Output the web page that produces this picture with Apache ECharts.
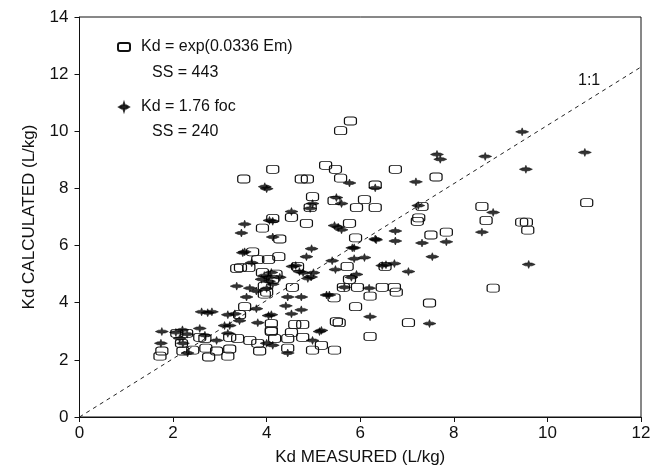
<!DOCTYPE html>
<html>
<head>
<meta charset="utf-8">
<script src="https://cdn.jsdelivr.net/npm/echarts@6/dist/echarts.min.js"></script>
<style>
html,body{margin:0;padding:0;background:#fff;}
#chart{width:654px;height:471px;}
</style>
</head>
<body>
<div id="chart"></div>
<script>
// Kd = exp(0.0336 Em), open rectangles  [measured, calculated]
const emPoints = [
  [5.79,10.36],[5.58,10.02],[5.26,8.81],[5.47,8.67],[5.58,8.36],[4.74,8.33],[4.87,8.33],[4.13,8.67],
  [3.51,8.33],[6.75,8.67],[7.62,8.40],[6.32,8.12],[4.98,7.71],[4.93,7.33],[5.44,7.57],[6.09,7.61],
  [5.92,7.33],[6.32,7.33],[4.53,6.99],[4.85,6.78],[5.77,6.78],[5.90,6.27],[4.13,6.95],[4.28,6.23],
  [3.91,6.61],[3.70,5.78],
  [7.32,7.37],[7.22,6.85],[7.25,6.97],[7.51,6.37],[7.84,6.47],[8.60,7.37],[8.69,6.88],[9.45,6.82],
  [9.55,6.82],[9.58,6.54],[10.84,7.50],
  [5.72,5.27],[6.53,5.27],[5.64,4.54],[5.94,4.54],[6.47,4.54],[6.73,4.54],[6.77,4.37],[6.21,4.23],
  [5.44,4.17],[5.90,3.86],[7.48,3.99],[8.84,4.51],[5.49,3.34],[5.55,3.30],[7.03,3.30],[6.21,2.82],
  [5.17,2.51],[5.45,2.34],
  [4.26,5.61],[4.66,5.27],[5.77,4.82],[4.55,4.54],[4.60,3.24],[4.77,3.24],[4.53,2.96],[4.10,2.99],
  [4.17,2.75],[4.45,2.75],[4.77,2.79],[4.45,2.41],[4.98,2.34],
  [3.81,5.51],[4.04,5.51],[3.36,5.20],[3.44,5.23],[3.62,5.23],[3.91,5.06],[3.95,4.58],[3.95,4.30],
  [4.13,4.82],[4.00,4.37],[4.20,5.00],
  [3.53,3.86],[3.42,3.58],[4.10,3.27],[4.10,3.03],[2.08,2.93],[2.29,2.93],[2.57,2.79],[2.68,2.75],
  [3.21,2.79],[3.38,2.75],[3.64,2.68],[3.81,2.58],[1.76,2.31],[1.72,2.13],[2.18,2.58],[2.21,2.31],
  [2.42,2.34],[2.70,2.41],[2.93,2.31],[2.76,2.10],[3.21,2.38],[3.17,2.13],[3.85,2.31]
];
// Kd = 1.76 foc, filled crosses  [measured, calculated]
const focPoints = [
  [3.96,8.06],[4.00,7.99],[5.77,8.19],[6.32,8.02],[4.98,7.47],[4.93,7.30],[5.49,7.68],[5.60,7.47],
  [4.53,7.19],[4.13,6.85],[4.13,6.30],[3.53,6.75],[3.46,6.44],[4.06,6.88],[5.53,6.64],[5.45,6.70],
  [5.60,6.55],[4.96,5.89],[5.87,5.92],[6.32,6.23],[3.49,5.75],[3.68,5.40],
  [7.64,9.19],[7.71,9.02],[8.67,9.12],[7.19,8.23],[7.24,7.40],[8.84,7.16],[6.75,6.51],[6.75,6.16],
  [7.32,6.09],[7.84,6.13],[8.60,6.47],[9.46,9.98],[10.80,9.26],[9.54,8.67],[6.34,6.20],[7.54,5.61],
  [9.60,5.34],[7.03,5.09],[7.48,3.27],
  [5.83,5.92],[5.87,5.54],[6.09,5.58],[5.40,5.47],[5.47,5.16],[6.47,5.30],[6.55,5.33],[6.73,5.37],
  [5.92,4.99],[5.81,4.89],[6.19,4.51],[5.28,4.27],[6.21,3.51],[5.17,3.03],[5.66,4.54],[4.85,5.61],
  [4.70,5.09],[4.78,5.05],[4.10,5.06],[4.28,4.89],[4.13,4.65],[4.45,4.20],[4.74,4.20],[4.41,3.89],
  [4.53,3.61],[4.74,3.75],[4.10,3.58],[5.13,2.99],[4.98,2.68],[4.13,2.51],[4.45,2.24],[5.34,4.27],
  [4.55,5.27],[4.62,5.30],[4.88,4.85],[4.95,4.90],[5.00,5.05],
  [3.53,5.78],[3.36,4.58],[3.64,4.51],[3.78,4.41],[3.89,4.82],[4.04,4.89],[3.57,4.20],[4.00,4.50],
  [3.78,3.79],[2.61,3.68],[2.74,3.65],[2.83,3.68],[3.17,3.58],[3.32,3.61],[3.42,3.37],[3.21,3.20],
  [3.81,3.30],[4.04,3.55],[3.17,2.93],[1.76,2.99],[1.74,2.58],[2.06,2.96],[2.14,2.75],[2.21,2.58],
  [2.57,3.10],[2.68,2.86],[2.93,2.68],[2.31,2.24],[4.00,2.58],[3.10,3.20],[2.20,3.05],[2.30,2.90],
  [3.95,4.95],[4.05,4.75]
];
// 1:1 reference line endpoints (as drawn)
const oneToOne = [[0,0],[12,12.25]];
const xTicks = {min:0, max:12, interval:2};
const yTicks = {min:0, max:14, interval:2};
const xTitle = 'Kd MEASURED (L/kg)';
const yTitle = 'Kd CALCULATED (L/kg)';
const seriesNames = ['Kd = exp(0.0336 Em)', 'Kd = 1.76 foc'];
const ssTexts = ['SS = 443', 'SS = 240'];

const FONT = '"Liberation Sans", Arial, Helvetica, sans-serif';
const INK = '#111';
const crossPath = 'path://M0,5 L3,3.2 L5,3.2 L6,0 L7,3.2 L9,3.2 L12,5 L9,6.8 L7,6.8 L6,10 L5,6.8 L3,6.8 Z';

const chart = echarts.init(document.getElementById('chart'), null, {renderer:'canvas'});
chart.setOption({
  animation:false,
  backgroundColor:'#fff',
  grid:{left:79.5, right:13, top:17, bottom:46, show:true, borderColor:INK, borderWidth:1, backgroundColor:'transparent'},
  xAxis:{
    type:'value', min:xTicks.min, max:xTicks.max, interval:xTicks.interval,
    name:xTitle, nameLocation:'middle', nameGap:32,
    nameTextStyle:{fontFamily:FONT, fontSize:17, color:INK},
    axisLine:{show:true, lineStyle:{color:INK, width:1}},
    axisTick:{show:true, inside:false, length:5, lineStyle:{color:INK}},
    axisLabel:{fontFamily:FONT, fontSize:17, color:INK, margin:8},
    splitLine:{show:false}
  },
  yAxis:{
    type:'value', min:yTicks.min, max:yTicks.max, interval:yTicks.interval,
    name:yTitle, nameLocation:'middle', nameGap:42, nameRotate:90,
    nameTextStyle:{fontFamily:FONT, fontSize:17, color:INK},
    axisLine:{show:true, lineStyle:{color:INK, width:1}},
    axisTick:{show:true, inside:false, length:5, lineStyle:{color:INK}},
    axisLabel:{fontFamily:FONT, fontSize:17, color:INK, margin:11},
    splitLine:{show:false}
  },
  legend:{
    orient:'vertical', left:112, top:33, itemGap:42,
    itemWidth:12, itemHeight:8,
    data:seriesNames,
    textStyle:{fontFamily:FONT, fontSize:16, color:INK, lineHeight:18, padding:[0,0,0,6]}
  },
  graphic:[
    {type:'text', left:152, top:65, style:{text:ssTexts[0], font:'16px '+FONT, fill:INK}},
    {type:'text', left:152, top:124, style:{text:ssTexts[1], font:'16px '+FONT, fill:INK}},
    {type:'text', left:578, top:73, style:{text:'1:1', font:'16px '+FONT, fill:INK}}
  ],
  series:[
    {
      type:'line', data:oneToOne, showSymbol:false, symbol:'none', silent:true,
      lineStyle:{color:'#222', width:1, type:[4,4]}, z:1
    },
    {
      name:seriesNames[0], type:'scatter', data:emPoints,
      symbol:'roundRect', symbolSize:[12,8],
      itemStyle:{color:'rgba(255,255,255,0)', borderColor:INK, borderWidth:1, opacity:1},
      z:3
    },
    {
      name:seriesNames[1], type:'scatter', data:focPoints,
      symbol:crossPath, symbolSize:[13,8],
      itemStyle:{color:'#000', borderColor:'#000', borderWidth:0.6},
      z:4
    }
  ]
});
</script>
</body>
</html>
